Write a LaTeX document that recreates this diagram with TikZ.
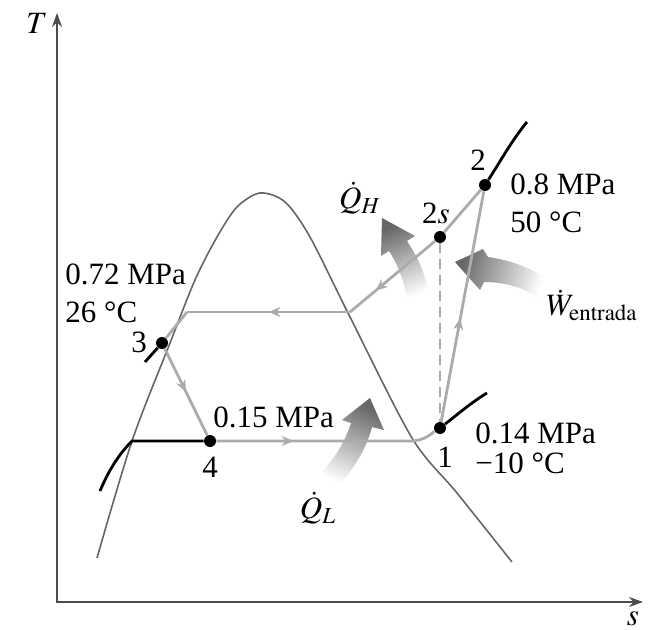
\documentclass[tikz,border=0pt]{standalone}
\usepackage{mathptmx}
\usepackage[no-math]{fontspec}
\setmainfont{Liberation Serif}
\usetikzlibrary{arrows.meta,decorations.markings}
\tikzset{
  eixo/.style={{Stealth[length=7pt,width=5pt]}-{Stealth[length=7pt,width=5pt]},line width=1pt,black!70},
  cupula/.style={line width=0.8pt,black!60},
  processo/.style={line width=1.4pt,black!33},
  fluxo/.style={processo,postaction={decorate},decoration={markings,mark=at position #1 with {\arrow{Stealth[length=6pt,width=5pt]}}}},
  isobara/.style={line width=1.4pt,black},
  ponto/.style={circle,fill=black,inner sep=0pt,minimum size=6pt},
  rotulo/.style={inner sep=0pt},
  setaQ/.style={top color=black!60,middle color=black!35,bottom color=white},
}

\begin{document}
\begin{tikzpicture}[x=0.5pt,y=-0.5pt,font=\fontsize{15.5}{18}\selectfont]
\useasboundingbox (0,0) rectangle (657,630);
% eixos
\coordinate (O) at (57,602);
\coordinate (Ttopo) at (57,13);
\coordinate (sfim) at (643,602);
\draw[eixo] (Ttopo) -- (O) -- (sfim);
\node[rotulo] (lT) at (37,23) {$T$};
\node[rotulo] (ls) at (633,619) {$s$};
% cupula de saturacao
\draw[cupula] plot[smooth] coordinates {(97,558) (132,441) (170,343) (195,280) (217,237) (237,207) (260,193) (285,202) (310,237) (350,317) (412,438) (457,493) (512,562)};
% setas de calor e trabalho
\shade[setaQ,shading angle=24] (382,218) -- (415,236) -- (407,241) .. controls (418,258) and (427,275) .. (429,300) -- (407,302) .. controls (405,282) and (398,265) .. (389,251) -- (381,256) -- cycle;
\shade[setaQ,shading angle=73] (455,262) -- (483,249) -- (488,257) .. controls (510,260) and (532,268) .. (548,280) -- (538,298) .. controls (525,288) and (505,282) .. (484,282) -- (480,290) -- cycle;
\shade[setaQ,shading angle=-26] (370,398) -- (384,430) -- (372,427) .. controls (366,450) and (352,472) .. (336,488) -- (316,478) .. controls (332,462) and (344,445) .. (351,423) -- (342,420) -- cycle;
% estados
\node[ponto] (p1) at (440,428) {};
\node[ponto] (p2) at (485,185) {};
\node[ponto] (p2s) at (440,237) {};
\node[ponto] (p3) at (162,343) {};
\node[ponto] (p4) at (210,441) {};
\coordinate (gv) at (350,312);
\coordinate (gl) at (187,312);
\coordinate (c41) at (410,441);
% ciclo
\draw[fluxo=0.45] (p1) -- (p2);
\draw[processo] (p2) -- (p2s);
\draw[fluxo=0.7] (p2s) -- (gv);
\draw[fluxo=0.5] (gv) -- (gl);
\draw[processo] (gl) -- (p3);
\draw[fluxo=0.5] (p3) -- (p4);
\draw[fluxo=0.35] (p4) -- (c41) .. controls (425,441) and (432,433) .. (p1);
\draw[processo,dash pattern=on 5pt off 3pt] (p2s) -- (p1);
% isobaras fora da cupula
\coordinate (e1) at (487,393);
\coordinate (e2) at (527,122);
\coordinate (e3) at (145,362);
\coordinate (c4l) at (132,441);
\coordinate (e4) at (100,491);
\draw[isobara] (p2) .. controls (500,162) and (512,140) .. (e2);
\draw[isobara] (p1) .. controls (458,414) and (472,402) .. (e1);
\draw[isobara] (p3) -- (e3);
\draw[isobara] (p4) -- (c4l) .. controls (118,455) and (108,472) .. (e4);
% rotulos
\node[rotulo] (l1) at (445,457) {1};
\node[rotulo] (l2) at (478,160) {2};
\node[rotulo] (l2s) at (436,213) {2$s$};
\node[rotulo] (l3) at (139,342) {3};
\node[rotulo] (l4) at (210,467) {4};
\node[rotulo,anchor=base west] (pa2) at (510,195) {0.8 MPa};
\node[rotulo,anchor=base west] (ta2) at (510,233) {50 °C};
\node[rotulo,anchor=base west] (pa3) at (65,285) {0.72 MPa};
\node[rotulo,anchor=base west] (ta3) at (65,322) {26 °C};
\node[rotulo,anchor=base west] (pa4) at (213,427) {0.15 MPa};
\node[rotulo,anchor=base west] (pa1) at (475,443) {0.14 MPa};
\node[rotulo,anchor=base west] (ta1) at (475,473) {−10 °C};
\node[rotulo] (qh) at (360,198) {$\dot{Q}_H$};
\node[rotulo] (ql) at (318,508) {$\dot{Q}_L$};
\node[rotulo] (wen) at (592,305) {$\dot{W}_{\mathrm{entrada}}$};
\end{tikzpicture}
\end{document}
